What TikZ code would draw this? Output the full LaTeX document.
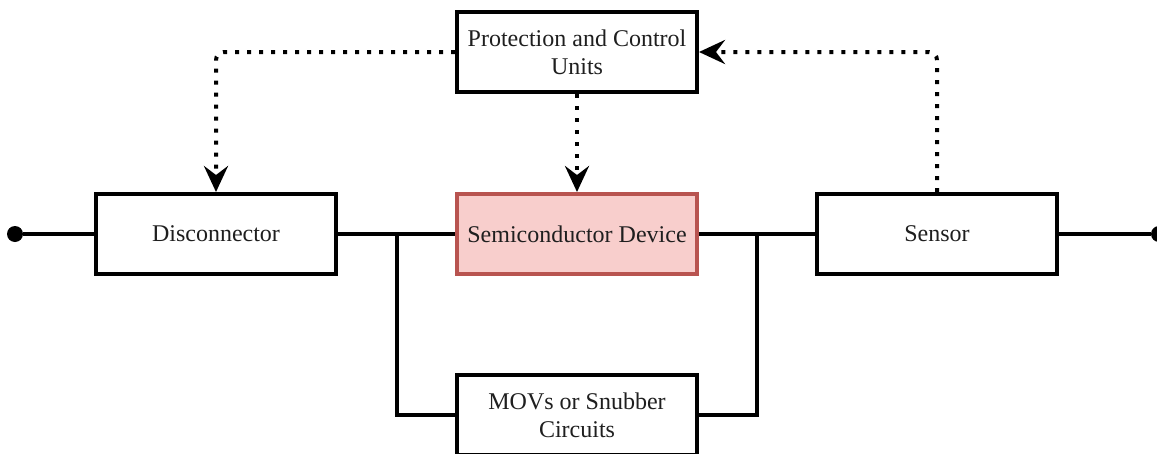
\documentclass[tikz,border=0pt]{standalone}
\usepackage{fontspec}
\setmainfont{Liberation Serif}
\usetikzlibrary{arrows.meta}
\definecolor{semifill}{HTML}{F8CECC}
\definecolor{semiedge}{HTML}{B85450}
\begin{document}
\begin{tikzpicture}[x=1pt,y=-1pt,
  block/.style={draw=black, line width=4pt, fill=white, minimum width=240pt, minimum height=80pt,
    inner sep=2pt, align=center, font=\fontsize{24}{28}\selectfont, text=black!88},
  hotblock/.style={block, draw=semiedge, fill=semifill},
  wire/.style={line width=3.6pt, line join=miter},
  ctrl/.style={line width=4pt, dash pattern=on 4pt off 8pt, rounded corners=8pt,
    -{Stealth[length=26pt,width=24pt,inset=9pt]}},
  term/.style={circle, fill=black, inner sep=0pt, minimum size=16pt}]
\useasboundingbox (0,0) rectangle (1157,453);
% blocks
\node[block] (pcu) at (577,52) {Protection and Control\\Units};
\node[block] (disc) at (216,234) {Disconnector};
\node[hotblock] (semi) at (577,234) {Semiconductor Device};
\node[block] (sens) at (937,234) {Sensor};
\node[block] (mov) at (577,415) {MOVs or Snubber\\Circuits};
% terminals and junctions
\node[term] (tin) at (15,234) {};
\node[term] (tout) at (1159,234) {};
\coordinate (jl) at (397,234);
\coordinate (jr) at (757,234);
% main power path
\draw[wire] (tin) -- (disc.west);
\draw[wire] (disc.east) -- (semi.west);
\draw[wire] (semi.east) -- (sens.west);
\draw[wire] (sens.east) -- (tout);
% parallel protection branch
\draw[wire] (jl) |- (mov.west);
\draw[wire] (jr) |- (mov.east);
% control signals
\draw[ctrl] (pcu.west) -| (disc.north);
\draw[ctrl] (pcu.south) -- (semi.north);
\draw[ctrl] (sens.north) |- (pcu.east);
\end{tikzpicture}
\end{document}
